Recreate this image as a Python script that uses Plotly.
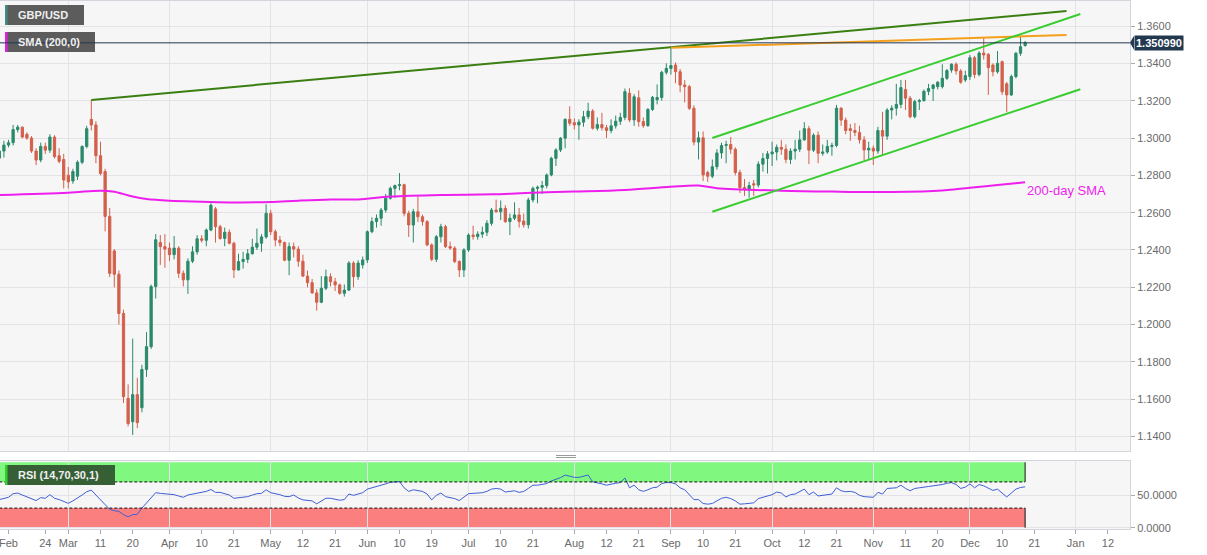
import pandas as pd
import plotly.graph_objects as go

# ---------------- data ----------------
trade_dates = pd.bdate_range("2020-02-10", "2020-12-17")

open_prices = [
    # Feb
    1.2892, 1.2930, 1.2962, 1.2975, 1.3045, 1.3058, 1.3020, 1.3000, 1.2930, 1.2882, 1.2955, 1.2935, 1.3005, 1.2905, 1.2885,
    # Mar
    1.2800, 1.2770, 1.2795, 1.2870, 1.2955, 1.3100, 1.3070, 1.2905, 1.2820, 1.2580, 1.2395, 1.2270, 1.2060, 1.1605, 1.1480,
    1.1625, 1.1555, 1.1760, 1.1882, 1.2204, 1.2440, 1.2418,
    # Apr
    1.2410, 1.2375, 1.2410, 1.2275, 1.2240, 1.2340, 1.2390, 1.2460, 1.2452, 1.2507, 1.2620, 1.2525, 1.2462, 1.2495, 1.2436,
    1.2293, 1.2338, 1.2350, 1.2380, 1.2415, 1.2436, 1.2470,
    # May
    1.2596, 1.2498, 1.2453, 1.2440, 1.2345, 1.2418, 1.2405, 1.2340, 1.2260, 1.2225, 1.2170, 1.2120, 1.2195, 1.2257, 1.2230,
    1.2213, 1.2168, 1.2185, 1.2330, 1.2257, 1.2320,
    # Jun
    1.2347, 1.2498, 1.2552, 1.2570, 1.2614, 1.2677, 1.2730, 1.2745, 1.2750, 1.2596, 1.2534, 1.2605, 1.2578, 1.2552, 1.2427,
    1.2350, 1.2471, 1.2525, 1.2418, 1.2410, 1.2338, 1.2293,
    # Jul
    1.2400, 1.2480, 1.2472, 1.2485, 1.2495, 1.2543, 1.2614, 1.2605, 1.2623, 1.2552, 1.2570, 1.2588, 1.2555, 1.2535, 1.2668,
    1.2730, 1.2736, 1.2745, 1.2802, 1.2891, 1.2936, 1.2999, 1.3100,
    # Aug
    1.3082, 1.3070, 1.3085, 1.3114, 1.3144, 1.3052, 1.3072, 1.3055, 1.3040, 1.3065, 1.3090, 1.3110, 1.3240, 1.3097, 1.3215,
    1.3088, 1.3066, 1.3153, 1.3205, 1.3217, 1.3352,
    # Sep
    1.3373, 1.3391, 1.3355, 1.3284, 1.3275, 1.3159, 1.2978, 1.3001, 1.2815, 1.2795, 1.2846, 1.2920, 1.2960, 1.2965, 1.2940,
    1.2815, 1.2735, 1.2722, 1.2755, 1.2748, 1.2860, 1.2890,
    # Oct
    1.2915, 1.2925, 1.2950, 1.2940, 1.2885, 1.2930, 1.2940, 1.2990, 1.3050, 1.2935, 1.3015, 1.2918, 1.2925, 1.2955, 1.2960,
    1.3160, 1.3096, 1.3050, 1.3040, 1.3030, 1.2990, 1.2936,
    # Nov
    1.2945, 1.2930, 1.3040, 1.3010, 1.3150, 1.3160, 1.3180, 1.3260, 1.3213, 1.3114, 1.3195, 1.3200, 1.3250, 1.3265, 1.3275,
    1.3275, 1.3320, 1.3364, 1.3395, 1.3359, 1.3311,
    # Dec
    1.3329, 1.3430, 1.3340, 1.3455, 1.3448, 1.3391, 1.3355, 1.3409, 1.3290, 1.3231, 1.3329, 1.3454, 1.3495,
]

high_prices = [
    1.2970, 1.2985, 1.2990, 1.3070, 1.3070, 1.3062, 1.3030, 1.3010, 1.2945, 1.2975, 1.2975, 1.3020, 1.3015, 1.2945, 1.2915,
    1.2845, 1.2835, 1.2880, 1.2960, 1.3065, 1.3204, 1.3090, 1.2980, 1.2835, 1.2625, 1.2405, 1.2290, 1.2080, 1.1680, 1.1925,
    1.1715, 1.1785, 1.1960, 1.2215, 1.2485, 1.2480, 1.2485,
    1.2440, 1.2475, 1.2420, 1.2290, 1.2355, 1.2420, 1.2480, 1.2480, 1.2515, 1.2650, 1.2630, 1.2535, 1.2520, 1.2510, 1.2445,
    1.2380, 1.2390, 1.2405, 1.2460, 1.2515, 1.2485, 1.2645,
    1.2615, 1.2510, 1.2475, 1.2445, 1.2440, 1.2440, 1.2420, 1.2375, 1.2290, 1.2245, 1.2190, 1.2260, 1.2295, 1.2275, 1.2250,
    1.2220, 1.2215, 1.2340, 1.2340, 1.2345, 1.2365,
    1.2505, 1.2575, 1.2590, 1.2625, 1.2700, 1.2740, 1.2750, 1.2812, 1.2755, 1.2610, 1.2620, 1.2686, 1.2590, 1.2560, 1.2435,
    1.2480, 1.2540, 1.2535, 1.2445, 1.2420, 1.2345, 1.2410,
    1.2490, 1.2530, 1.2500, 1.2525, 1.2560, 1.2625, 1.2670, 1.2665, 1.2640, 1.2595, 1.2655, 1.2625, 1.2595, 1.2680, 1.2740,
    1.2745, 1.2770, 1.2810, 1.2900, 1.2945, 1.3005, 1.3105, 1.3170,
    1.3105, 1.3100, 1.3145, 1.3189, 1.3155, 1.3110, 1.3135, 1.3070, 1.3100, 1.3120, 1.3135, 1.3265, 1.3267, 1.3235, 1.3255,
    1.3110, 1.3160, 1.3225, 1.3287, 1.3360, 1.3400,
    1.3483, 1.3405, 1.3370, 1.3310, 1.3285, 1.3175, 1.3035, 1.3035, 1.2825, 1.2885, 1.2940, 1.2975, 1.2985, 1.3005, 1.2950,
    1.2830, 1.2780, 1.2765, 1.2775, 1.2875, 1.2920, 1.2930,
    1.2980, 1.2965, 1.2990, 1.2965, 1.2945, 1.2990, 1.3040, 1.3085, 1.3065, 1.3025, 1.3035, 1.2965, 1.2990, 1.2975, 1.3177,
    1.3165, 1.3110, 1.3075, 1.3080, 1.3065, 1.3010, 1.2980,
    1.2960, 1.3060, 1.3140, 1.3160, 1.3175, 1.3290, 1.3311, 1.3311, 1.3225, 1.3205, 1.3210, 1.3260, 1.3290, 1.3290, 1.3305,
    1.3395, 1.3370, 1.3400, 1.3405, 1.3370, 1.3360,
    1.3445, 1.3440, 1.3465, 1.3538, 1.3455, 1.3400, 1.3466, 1.3415, 1.3300, 1.3340, 1.3460, 1.3543, 1.3520,
]

low_prices = [
    1.2880, 1.2895, 1.2950, 1.2960, 1.3030, 1.2998, 1.2990, 1.2920, 1.2855, 1.2870, 1.2915, 1.2920, 1.2890, 1.2865, 1.2730,
    1.2730, 1.2755, 1.2775, 1.2860, 1.2945, 1.3040, 1.2865, 1.2800, 1.2500, 1.2255, 1.2200, 1.2000, 1.1580, 1.1455, 1.1409,
    1.1445, 1.1530, 1.1720, 1.1870, 1.2140, 1.2320, 1.2305,
    1.2340, 1.2350, 1.2250, 1.2205, 1.2165, 1.2330, 1.2375, 1.2440, 1.2420, 1.2500, 1.2440, 1.2455, 1.2420, 1.2430, 1.2250,
    1.2290, 1.2300, 1.2330, 1.2375, 1.2400, 1.2390, 1.2460,
    1.2480, 1.2420, 1.2420, 1.2340, 1.2265, 1.2360, 1.2310, 1.2255, 1.2200, 1.2165, 1.2075, 1.2115, 1.2185, 1.2205, 1.2180,
    1.2160, 1.2150, 1.2180, 1.2200, 1.2240, 1.2300,
    1.2330, 1.2490, 1.2520, 1.2530, 1.2600, 1.2670, 1.2680, 1.2720, 1.2580, 1.2470, 1.2440, 1.2550, 1.2530, 1.2420, 1.2340,
    1.2335, 1.2440, 1.2410, 1.2400, 1.2330, 1.2255, 1.2255,
    1.2390, 1.2455, 1.2455, 1.2465, 1.2475, 1.2530, 1.2600, 1.2560, 1.2545, 1.2480, 1.2560, 1.2520, 1.2520, 1.2515, 1.2655,
    1.2650, 1.2700, 1.2730, 1.2795, 1.2850, 1.2925, 1.2945, 1.3065,
    1.3045, 1.2990, 1.3060, 1.3100, 1.3045, 1.3040, 1.3040, 1.3000, 1.3025, 1.3050, 1.3070, 1.3095, 1.3085, 1.3065, 1.3060,
    1.3055, 1.3060, 1.3145, 1.3180, 1.3200, 1.3340,
    1.3340, 1.3293, 1.3245, 1.3190, 1.3150, 1.2960, 1.2885, 1.2770, 1.2765, 1.2785, 1.2830, 1.2890, 1.2865, 1.2915, 1.2800,
    1.2705, 1.2690, 1.2680, 1.2690, 1.2735, 1.2820, 1.2810,
    1.2850, 1.2880, 1.2910, 1.2865, 1.2860, 1.2885, 1.2925, 1.2985, 1.2860, 1.2925, 1.2865, 1.2905, 1.2915, 1.2905, 1.2950,
    1.3065, 1.3020, 1.2985, 1.3010, 1.2970, 1.2880, 1.2885,
    1.2855, 1.2915, 1.2910, 1.2990, 1.3100, 1.3120, 1.3160, 1.3150, 1.3105, 1.3105, 1.3150, 1.3195, 1.3230, 1.3198, 1.3260,
    1.3265, 1.3310, 1.3350, 1.3340, 1.3290, 1.3300,
    1.3310, 1.3320, 1.3330, 1.3420, 1.3231, 1.3330, 1.3345, 1.3231, 1.3138, 1.3225, 1.3320, 1.3440, 1.3490,
]

close_prices = [
    1.2930, 1.2962, 1.2975, 1.3045, 1.3058, 1.3005, 1.3000, 1.2930, 1.2882, 1.2955, 1.2935, 1.3005, 1.2900, 1.2875, 1.2775,
    1.2765, 1.2820, 1.2870, 1.2955, 1.3050, 1.3070, 1.2905, 1.2810, 1.2580, 1.2275, 1.2270, 1.2060, 1.1614, 1.1470, 1.1625,
    1.1475, 1.1760, 1.1882, 1.2204, 1.2455, 1.2418, 1.2405,
    1.2375, 1.2410, 1.2275, 1.2240, 1.2340, 1.2390, 1.2460, 1.2452, 1.2507, 1.2640, 1.2525, 1.2462, 1.2495, 1.2436, 1.2293,
    1.2338, 1.2350, 1.2380, 1.2415, 1.2436, 1.2470, 1.2596,
    1.2498, 1.2453, 1.2440, 1.2345, 1.2418, 1.2405, 1.2340, 1.2260, 1.2225, 1.2170, 1.2120, 1.2195, 1.2257, 1.2230, 1.2213,
    1.2168, 1.2185, 1.2330, 1.2257, 1.2330, 1.2347,
    1.2498, 1.2552, 1.2570, 1.2614, 1.2677, 1.2730, 1.2745, 1.2750, 1.2596, 1.2534, 1.2605, 1.2578, 1.2552, 1.2427, 1.2350,
    1.2471, 1.2525, 1.2418, 1.2410, 1.2338, 1.2293, 1.2400,
    1.2480, 1.2472, 1.2485, 1.2495, 1.2543, 1.2614, 1.2605, 1.2623, 1.2552, 1.2570, 1.2588, 1.2552, 1.2535, 1.2668, 1.2730,
    1.2736, 1.2745, 1.2802, 1.2891, 1.2936, 1.2999, 1.3100, 1.3079,
    1.3070, 1.3085, 1.3114, 1.3144, 1.3052, 1.3072, 1.3055, 1.3040, 1.3065, 1.3090, 1.3110, 1.3248, 1.3097, 1.3221, 1.3088,
    1.3066, 1.3153, 1.3218, 1.3217, 1.3352, 1.3373,
    1.3388, 1.3355, 1.3284, 1.3275, 1.3159, 1.2978, 1.3001, 1.2802, 1.2795, 1.2846, 1.2920, 1.2960, 1.2965, 1.2940, 1.2815,
    1.2735, 1.2730, 1.2745, 1.2748, 1.2860, 1.2890, 1.2915,
    1.2925, 1.2950, 1.2940, 1.2885, 1.2930, 1.2940, 1.2990, 1.3050, 1.2935, 1.3015, 1.2918, 1.2925, 1.2955, 1.2960, 1.3160,
    1.3096, 1.3040, 1.3040, 1.3030, 1.2990, 1.2936, 1.2945,
    1.2930, 1.3040, 1.3010, 1.3150, 1.3160, 1.3180, 1.3270, 1.3213, 1.3114, 1.3195, 1.3200, 1.3250, 1.3265, 1.3284, 1.3299,
    1.3320, 1.3361, 1.3395, 1.3359, 1.3299, 1.3334,
    1.3430, 1.3340, 1.3455, 1.3445, 1.3377, 1.3355, 1.3400, 1.3248, 1.3231, 1.3329, 1.3454, 1.3489, 1.35099,
]

rsi_values = [
    43, 45, 46.5, 52, 53, 50, 47, 44, 41.5, 46, 45, 50.5, 45, 43, 40,
    37.3, 41, 45, 50, 55, 57.5, 50, 43, 35.5, 28, 26, 25, 20, 16.5, 20, 20.5, 30, 38, 47, 53.5, 52.5, 52,
    51.5, 50.5, 48.5, 46.5, 50, 51.5, 53, 53.5, 55.5, 58.5, 54, 54, 52.5, 50, 45, 46, 46.5, 47.5, 50, 52, 52.5, 58,
    53.5, 52.5, 50.5, 48, 47.5, 50, 45.5, 42.5, 41.5, 41, 36.5, 41, 45, 45, 43, 42, 43, 51.5, 49.5, 51.5, 53.5,
    59, 61, 62.5, 64, 67, 69.5, 70, 70.5, 61, 55.5, 58, 57, 55.5, 51.5, 42.5, 49.5, 53, 47.5, 46.5, 44.5, 41.5, 46.5,
    52, 52.5, 52.5, 53.5, 55.5, 59, 60, 59, 54.5, 55.5, 56.5, 54, 55.5, 60, 65, 65, 66, 67.5, 71.5, 74, 76.5, 80.5, 79,
    77, 77, 79, 80.5, 70, 69, 67, 65, 67, 68, 69, 76, 61, 65, 58, 55.5, 58, 61, 62, 67.5, 69,
    69, 67, 61, 58, 51, 43, 43, 37, 36, 37, 41, 45, 46.5, 44.5, 41, 36, 36.5, 37.5, 38, 44.5, 46.5, 49,
    50.5, 54.5, 53, 47, 50.5, 51.5, 55.5, 59, 50.5, 54.5, 48.5, 49.5, 50.5, 51.5, 61, 56.5, 55, 55.5, 54, 49.5, 47.5, 47.5,
    46.5, 54, 51.5, 60, 60, 61, 65, 60, 56.5, 60, 61, 62.5, 63, 64, 64.5, 66, 68, 69, 66, 60, 62,
    67, 61, 66, 64, 60, 57, 59, 53, 47, 53, 59, 61.5, 62.5,
]

sma_dates = ["2020-02-10", "2020-03-02", "2020-03-11", "2020-03-16", "2020-03-20", "2020-03-25", "2020-04-01",
             "2020-04-10", "2020-04-21", "2020-05-01", "2020-05-11", "2020-05-20", "2020-05-28", "2020-06-08",
             "2020-06-23", "2020-07-08", "2020-07-21", "2020-08-03", "2020-08-18", "2020-09-01", "2020-09-09",
             "2020-09-15", "2020-10-05", "2020-10-20", "2020-11-04", "2020-11-20", "2020-12-01", "2020-12-09",
             "2020-12-17"]
sma_values = [1.2695, 1.2707, 1.2718, 1.2712, 1.2686, 1.2673, 1.2664, 1.2659, 1.2655, 1.2657, 1.2664, 1.2670,
              1.2671, 1.2686, 1.2695, 1.2698, 1.2707, 1.2713, 1.2722, 1.2739, 1.2745, 1.2731, 1.2718, 1.2713,
              1.2711, 1.2718, 1.2734, 1.2748, 1.2763]

long_trend_dates = ["2020-03-09", "2020-12-30"]
long_trend_prices = [1.3204, 1.3680]
resistance_dates = ["2020-09-01", "2020-12-30"]
resistance_prices = [1.3483, 1.3552]
channel_dates = ["2020-09-14", "2021-01-04"]
channel_upper_prices = [1.3000, 1.3664]
channel_lower_prices = [1.2605, 1.3261]

rsi_overbought, rsi_oversold, rsi_top, rsi_bottom = 70, 30, 100, 0

price_ticks = [1.14, 1.16, 1.18, 1.20, 1.22, 1.24, 1.26, 1.28, 1.30, 1.32, 1.34, 1.36]
rsi_ticks = [0, 50]
month_dates = ["2020-03-02", "2020-04-01", "2020-05-01", "2020-06-01", "2020-07-01", "2020-08-03",
               "2020-09-01", "2020-10-01", "2020-11-02", "2020-12-01", "2021-01-01"]
label_dates = ["2020-02-12", "2020-02-24", "2020-03-02", "2020-03-11", "2020-03-20", "2020-04-01", "2020-04-10",
               "2020-04-21", "2020-05-01", "2020-05-12", "2020-05-21", "2020-06-01", "2020-06-10", "2020-06-19",
               "2020-07-01", "2020-07-10", "2020-07-21", "2020-08-03", "2020-08-12", "2020-08-21", "2020-09-01",
               "2020-09-10", "2020-09-21", "2020-10-01", "2020-10-12", "2020-10-21", "2020-11-02", "2020-11-11",
               "2020-11-20", "2020-12-01", "2020-12-10", "2020-12-21", "2021-01-01", "2021-01-12"]
label_text = ["Feb", "24", "Mar", "11", "20", "Apr", "10", "21", "May", "12", "21", "Jun", "10", "19", "Jul", "10",
              "21", "Aug", "12", "21", "Sep", "10", "21", "Oct", "12", "21", "Nov", "11", "20", "Dec", "10", "21",
              "Jan", "12"]

assert len(trade_dates) == len(open_prices) == len(high_prices) == len(low_prices) == len(close_prices) == len(rsi_values)

# ---------------- styling ----------------
FONT = "Liberation Sans, Arial, sans-serif"
GREEN = "#2a8a6b"
RED = "#d3604b"
GRID = "#e3e3e7"
BORDER = "#d3d5dd"
TICKC = "#6a6a6a"

W, H = 1207, 555
ML, MR, MT, MB = 0, 77, 1, 26
PW, PH = W - ML - MR, H - MT - MB


def pxx(x):
    return (x - ML) / PW


def pxy(y):
    return (H - MB - y) / PH


HALF = pd.Timedelta(hours=12)
cx = list(trade_dates + HALF)
to_x = lambda ds: [pd.Timestamp(d) + HALF for d in ds]
x_range = ["2020-02-10 15:36", "2021-01-19 07:12"]
rbreaks = [dict(bounds=["sat", "mon"])]

fig = go.Figure()

fig.add_trace(go.Scatter(x=to_x(sma_dates), y=sma_values, mode="lines",
                         line=dict(color="#ee1fee", width=2, shape="spline", smoothing=1.0),
                         xaxis="x", yaxis="y", hoverinfo="skip"))

fig.add_trace(go.Candlestick(x=cx, open=open_prices, high=high_prices, low=low_prices, close=close_prices,
                             increasing=dict(line=dict(color=GREEN, width=1), fillcolor=GREEN),
                             decreasing=dict(line=dict(color=RED, width=1), fillcolor=RED),
                             whiskerwidth=0, xaxis="x", yaxis="y"))

for dts, prices, col in [(long_trend_dates, long_trend_prices, "#3a7f12"),
                         (resistance_dates, resistance_prices, "#f5a01c"),
                         (channel_dates, channel_upper_prices, "#38cc30"),
                         (channel_dates, channel_lower_prices, "#38cc30")]:
    fig.add_trace(go.Scatter(x=to_x(dts), y=prices, mode="lines", line=dict(color=col, width=2),
                             xaxis="x", yaxis="y", hoverinfo="skip"))

fig.add_trace(go.Scatter(x=cx, y=rsi_values, mode="lines", line=dict(color="#3e5fd6", width=1),
                         xaxis="x2", yaxis="y2", hoverinfo="skip"))

main_bottom = pxy(451)
rsi_top_dom = pxy(461)

axis_common = dict(showline=True, mirror=True, linecolor=BORDER, linewidth=1, zeroline=False)

fig.update_layout(
    width=W, height=H, margin=dict(l=ML, r=MR, t=MT, b=MB, autoexpand=False),
    paper_bgcolor="white", plot_bgcolor="#f6f6f6", showlegend=False,
    font=dict(family=FONT, size=11, color=TICKC),
    xaxis=dict(domain=[0, 1], anchor="y", range=x_range, rangebreaks=rbreaks,
               rangeslider=dict(visible=False), tickmode="array", tickvals=to_x(month_dates),
               showticklabels=False, ticks="", showgrid=True, gridcolor=GRID, **axis_common),
    yaxis=dict(domain=[main_bottom, 1], anchor="x", side="right", range=[1.1323, 1.3734],
               tickmode="array", tickvals=price_ticks, ticktext=[f"{v:.4f}" for v in price_ticks],
               ticks="outside", ticklen=4, tickcolor="#aaaaaa", showgrid=True, gridcolor=GRID,
               tickfont=dict(size=11, color=TICKC), **axis_common),
    xaxis2=dict(domain=[0, 1], anchor="y2", range=x_range, rangebreaks=rbreaks,
                tickmode="array", tickvals=to_x(label_dates), ticktext=label_text,
                ticks="outside", ticklen=4, tickcolor="#aaaaaa", showgrid=False,
                ticklabeloverflow="allow",
                minor=dict(tickmode="array", tickvals=to_x(month_dates), showgrid=True, gridcolor=GRID, ticks=""),
                tickfont=dict(size=11, color=TICKC), **axis_common),
    yaxis2=dict(domain=[0, rsi_top_dom], anchor="x2", side="right", range=[-2, 102],
                tickmode="array", tickvals=rsi_ticks, ticktext=[f"{v:.4f}" for v in rsi_ticks],
                ticks="outside", ticklen=4, tickcolor="#aaaaaa", showgrid=True, gridcolor=GRID,
                tickfont=dict(size=11, color=TICKC), **axis_common),
)

shapes = []
# RSI zones
x_first, x_last = str(cx[0]), str(cx[-1])
shapes.append(dict(type="rect", xref="x2", yref="y2", x0=x_first, x1=x_last, y0=rsi_overbought, y1=rsi_top,
                   fillcolor="#80f880", line=dict(width=0), layer="below"))
shapes.append(dict(type="rect", xref="x2", yref="y2", x0=x_first, x1=x_last, y0=rsi_bottom, y1=rsi_oversold,
                   fillcolor="#fb7f7f", line=dict(width=0), layer="below"))
for lvl in (rsi_overbought, rsi_oversold):
    shapes.append(dict(type="line", xref="x2", yref="y2", x0=x_first, x1=x_last, y0=lvl, y1=lvl,
                       line=dict(color="#111111", width=1, dash="3px,2px")))
shapes.append(dict(type="line", xref="x2", yref="y2", x0=x_last, x1=x_last, y0=rsi_overbought, y1=rsi_top,
                   line=dict(color="#111111", width=1)))
shapes.append(dict(type="line", xref="x2", yref="y2", x0=x_last, x1=x_last, y0=rsi_bottom, y1=rsi_oversold,
                   line=dict(color="#111111", width=1)))


# legend boxes (top-left)
def box(x0, x1, y0, y1, fill, strip):
    shapes.append(dict(type="rect", xref="paper", yref="paper", x0=pxx(x0), x1=pxx(x1), y0=pxy(y1), y1=pxy(y0),
                       fillcolor=fill, line=dict(width=0), layer="above"))
    shapes.append(dict(type="rect", xref="paper", yref="paper", x0=pxx(x0), x1=pxx(x0 + 2.5), y0=pxy(y1),
                       y1=pxy(y0), fillcolor=strip, line=dict(width=0), layer="above"))


box(5, 84, 5, 25, "#5c5c5c", "#3f8c84")
box(5, 95, 32, 52, "#5c5c5c", "#e020e0")
box(5, 115, 465, 485, "#365f36", "#2fcf2f")

# pane separator handle
for yy in (455.5, 457.5):
    shapes.append(dict(type="line", xref="paper", yref="paper", x0=pxx(556), x1=pxx(576), y0=pxy(yy), y1=pxy(yy),
                       line=dict(color="#9a9a9a", width=1)))

# current price line + arrow
last_close = close_prices[-1]
shapes.append(dict(type="line", xref="paper", yref="y", x0=0, x1=1, y0=last_close, y1=last_close,
                   line=dict(color="#22364f", width=1)))
shapes.append(dict(type="path", xref="paper", yref="y", xsizemode="pixel", ysizemode="pixel",
                   xanchor=1, yanchor=last_close, path="M 0 0 L 4 7 L 4 -7 Z",
                   fillcolor="#22384f", line=dict(width=0)))
fig.update_layout(shapes=shapes)

annotations = [
    dict(xref="paper", yref="paper", x=pxx(16), y=pxy(15), xanchor="left", yanchor="middle",
         text="<b>GBP/USD</b>", showarrow=False, font=dict(size=11, color="#f0f0f0", family=FONT)),
    dict(xref="paper", yref="paper", x=pxx(16), y=pxy(42), xanchor="left", yanchor="middle",
         text="<b>SMA (200,0)</b>", showarrow=False, font=dict(size=11, color="#f0f0f0", family=FONT)),
    dict(xref="paper", yref="paper", x=pxx(16), y=pxy(475), xanchor="left", yanchor="middle",
         text="<b>RSI (14,70,30,1)</b>", showarrow=False, font=dict(size=11, color="#f0f0f0", family=FONT)),
    dict(xref="paper", yref="y", x=1, y=last_close, xanchor="left", yanchor="middle", xshift=4,
         text=f"<b>{last_close:.6f}</b>", showarrow=False, bgcolor="#22384f", borderpad=1,
         font=dict(size=11, color="white", family=FONT)),
    dict(xref="x", yref="y", x=cx[-1], y=sma_values[-1], xanchor="left", yanchor="middle", yshift=-8,
         text="200-day SMA", showarrow=False, font=dict(size=13, color="#ee1fee", family=FONT)),
]
fig.update_layout(annotations=annotations)

fig.write_html("out.html", config={"displayModeBar": False, "staticPlot": True},
               post_script="document.body.style.margin='0';document.body.style.padding='0';")
